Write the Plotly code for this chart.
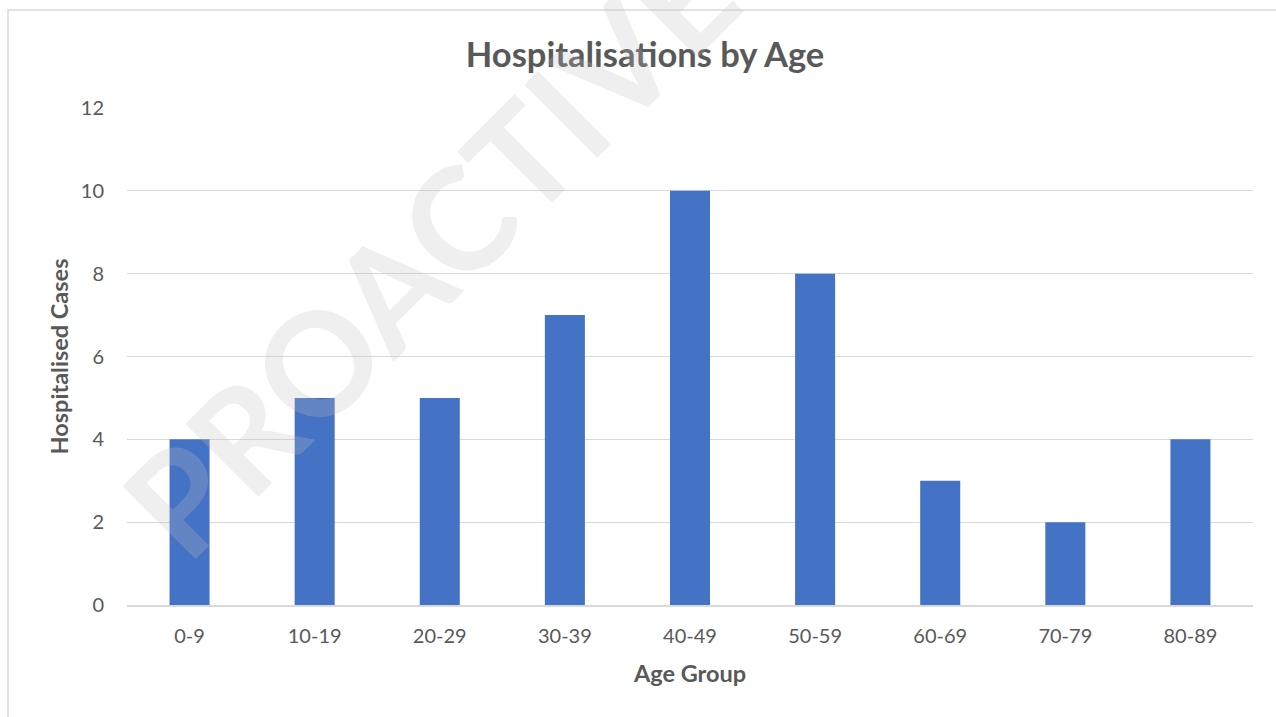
import plotly.graph_objects as go

# Hospitalised cases per age band
age_groups = ["0-9", "10-19", "20-29", "30-39", "40-49", "50-59", "60-69", "70-79", "80-89"]
hospitalised = [4, 5, 5, 7, 10, 8, 3, 2, 4]
y_ticks = [0, 2, 4, 6, 8, 10, 12]

FONT = "Lato, Open Sans, sans-serif"
GREY = "#595959"

fig = go.Figure(
    go.Bar(
        x=age_groups,
        y=hospitalised,
        marker=dict(color="#4472C4", line=dict(width=0)),
        hoverinfo="x+y",
    )
)

fig.update_layout(
    width=1276,
    height=717,
    margin=dict(l=127, r=23, t=108, b=112),
    paper_bgcolor="white",
    plot_bgcolor="white",
    bargap=0.68,
    showlegend=False,
    font=dict(family=FONT, color=GREY, size=20),
    title=dict(
        text="<b>Hospitalisations by Age</b>",
        x=645 / 1276,
        xanchor="center",
        y=1 - 55 / 717,
        yanchor="middle",
        font=dict(family=FONT, size=34.5, color=GREY),
    ),
    xaxis=dict(
        title=dict(text="<b>Age Group</b>", font=dict(size=23.5, color=GREY), standoff=20),
        showgrid=False,
        showline=True,
        linecolor="#d9d9d9",
        linewidth=1.5,
        ticks="",
        ticklabelstandoff=12,
        tickfont=dict(size=20, color=GREY),
    ),
    yaxis=dict(
        title=dict(text="<b>Hospitalised Cases</b>", font=dict(size=23.5, color=GREY), standoff=5),
        range=[0, 12],
        tickvals=y_ticks,
        showgrid=True,
        gridcolor="#d9d9d9",
        gridwidth=1.3,
        zeroline=False,
        showline=False,
        ticks="",
        ticklabelstandoff=22,
        tickfont=dict(size=20, color=GREY),
    ),
    shapes=[
        # chart frame
        dict(
            type="rect",
            xref="paper",
            yref="paper",
            x0=(8 - 127) / 1126,
            x1=(1290 - 127) / 1126,
            y0=-(730 - 605) / 497,
            y1=1 + (108 - 10) / 497,
            line=dict(color="#d9d9d9", width=1.5),
            fillcolor="rgba(0,0,0,0)",
            layer="below",
        )
    ],
    annotations=[
        # diagonal watermark
        dict(
            text="<b>PROACTIVE</b>",
            xref="paper",
            yref="paper",
            x=(428 - 127) / 1126,
            y=1 - (248 - 108) / 497,
            xanchor="center",
            yanchor="middle",
            showarrow=False,
            textangle=-45,
            font=dict(family=FONT, size=143, color="rgba(190,190,190,0.25)", weight=900),
        )
    ],
)

fig.write_html("out.html")
